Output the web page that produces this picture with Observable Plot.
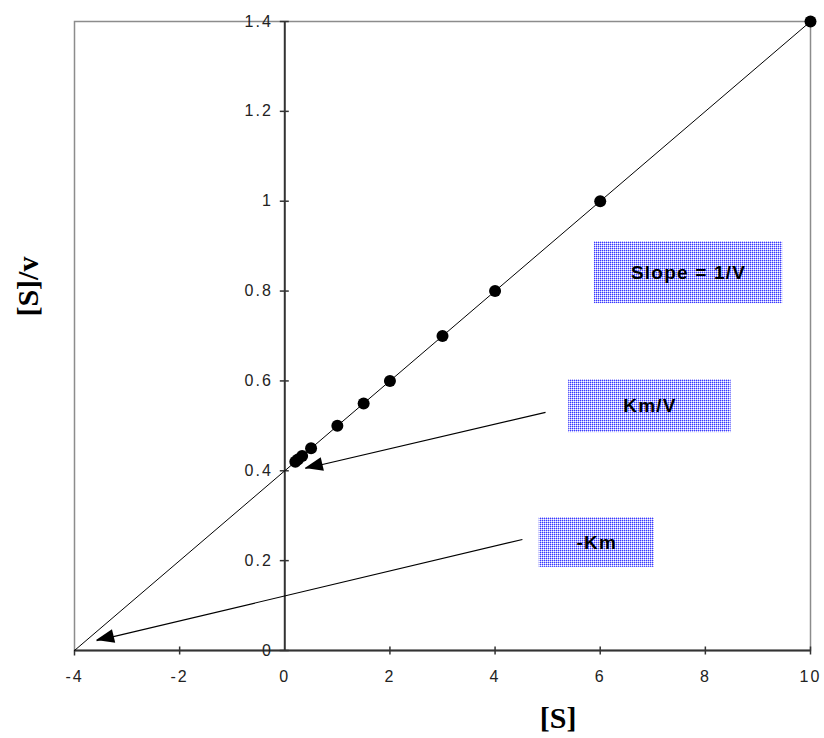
<!DOCTYPE html>
<html>
<head>
<meta charset="utf-8">
<script src="https://cdn.jsdelivr.net/npm/d3@7"></script>
<script src="https://cdn.jsdelivr.net/npm/@observablehq/plot@0.6"></script>
<style>
  body { margin: 0; background: #fff; }
  #chart { position: relative; width: 824px; height: 738px; }
</style>
</head>
<body>
<div id="chart"></div>
<script>
// Data: substrate concentration [S] and [S]/v
const S = [0.2, 0.25, 0.33, 0.5, 1, 1.5, 2, 3, 4, 6, 10];
const SoverV = [0.42, 0.425, 0.433, 0.45, 0.5, 0.55, 0.6, 0.7, 0.8, 1.0, 1.4];

// Fitted line end points (x-intercept -Km = -4 to last point)
const lineX = [-4, 10];
const lineY = [0, 1.4];

// Tick values
const xTicks = [-4, -2, 0, 2, 4, 6, 8, 10];
const yTicks = [0, 0.2, 0.4, 0.6, 0.8, 1, 1.2, 1.4];
const yTickLabels = ["0", "0.2", "0.4", "0.6", "0.8", "1", "1.2", "1.4"];

// Annotation labels (boxes)
const boxLabels = ["Slope = 1/V", "Km/V", "-Km"];
const boxX1 = [5.89, 5.40, 4.84];
const boxX2 = [9.47, 8.49, 7.03];
const boxY1 = [0.772, 0.485, 0.185];
const boxY2 = [0.910, 0.603, 0.296];

// Arrows (from text towards intercepts)
const arrowX1 = [4.96, 4.52];
const arrowY1 = [0.530, 0.247];
const arrowX2 = [0.39, -3.58];
const arrowY2 = [0.405, 0.022];

const points = S.map((s, i) => ({s, r: SoverV[i]}));
const fit = lineX.map((x, i) => ({x, y: lineY[i]}));
const boxes = boxLabels.map((label, i) => ({
  label, x1: boxX1[i], x2: boxX2[i], y1: boxY1[i], y2: boxY2[i]
}));
const arrows = arrowX1.map((x1, i) => ({x1, y1: arrowY1[i], x2: arrowX2[i], y2: arrowY2[i]}));

const vTick = { draw(ctx) { ctx.moveTo(0, -4); ctx.lineTo(0, 4); } };
const vTickDown = { draw(ctx) { ctx.moveTo(0, 0); ctx.lineTo(0, 5); } };
const hTick = { draw(ctx) { ctx.moveTo(-5, 0); ctx.lineTo(4, 0); } };

const sans = "Arial, 'Liberation Sans', sans-serif";
const serif = "'Times New Roman', 'Liberation Serif', serif";

function defsMark() {
  const ns = "http://www.w3.org/2000/svg";
  const g = document.createElementNS(ns, "g");
  g.innerHTML = `<defs><pattern id="dotfill" width="2" height="2" patternUnits="userSpaceOnUse">
    <rect x="0" y="0" width="2" height="2" fill="#ffffff"/>
    <rect x="0" y="0" width="1" height="1" fill="#3a3aff"/>
    <rect x="1" y="0" width="1" height="1" fill="#b4b4ff"/>
    <rect x="0" y="1" width="1" height="1" fill="#b4b4ff"/>
  </pattern></defs>`;
  return g;
}

function arrowHeads(index, scales) {
  const ns = "http://www.w3.org/2000/svg";
  const g = document.createElementNS(ns, "g");
  for (const a of arrows) {
    const sx = scales.x(a.x1), sy = scales.y(a.y1);
    const tx = scales.x(a.x2), ty = scales.y(a.y2);
    const ang = Math.atan2(ty - sy, tx - sx);
    const L = 18, W = 7;
    const bx = tx - L * Math.cos(ang), by = ty - L * Math.sin(ang);
    const px = -Math.sin(ang) * W, py = Math.cos(ang) * W;
    const p = document.createElementNS(ns, "polygon");
    p.setAttribute("points", `${tx},${ty} ${bx + px},${by + py} ${bx - px},${by - py}`);
    p.setAttribute("fill", "#000");
    g.appendChild(p);
  }
  return g;
}

const plot = Plot.plot({
  width: 824,
  height: 738,
  marginLeft: 74,
  marginRight: 14,
  marginTop: 21,
  marginBottom: 88,
  style: { fontFamily: sans, background: "#fff" },
  x: { domain: [-4, 10], axis: null },
  y: { domain: [0, 1.4], axis: null },
  marks: [
    defsMark,
    Plot.frame({ stroke: "#8c8c8c", strokeWidth: 1.5 }),
    // axes through origin
    Plot.ruleX([0], { stroke: "#333", strokeWidth: 2 }),
    Plot.ruleY([0], { stroke: "#333", strokeWidth: 2 }),
    Plot.dot(xTicks.filter(d => d !== -4 && d !== 0), { x: d => d, y: () => 0, symbol: vTick, stroke: "#333", strokeWidth: 1.5, r: 4 }),
    Plot.dot([-4], { x: d => d, y: () => 0, symbol: vTickDown, stroke: "#333", strokeWidth: 1.5, r: 4 }),
    Plot.dot(yTicks, { x: () => 0, y: d => d, symbol: hTick, stroke: "#333", strokeWidth: 1.5, r: 4 }),
    Plot.text(xTicks, { x: d => d, y: () => 0, text: d => String(d), dy: 26, fontSize: 16, fontFamily: sans, fill: "#222" }),
    Plot.text(yTicks, { x: () => 0, y: d => d, text: (d, i) => yTickLabels[i], dx: -12, textAnchor: "end", fontSize: 16, fontFamily: sans, fill: "#222" }),
    // fitted line
    Plot.line(fit, { x: "x", y: "y", stroke: "#000", strokeWidth: 1 }),
    // data points
    Plot.dot(points, { x: "s", y: "r", r: 6, fill: "#000" }),
    // annotation boxes
    Plot.rect(boxes, { x1: "x1", x2: "x2", y1: "y1", y2: "y2", fill: "url(#dotfill)" }),
    Plot.text(boxes, { x: d => (d.x1 + d.x2) / 2, y: d => (d.y1 + d.y2) / 2, text: "label", fontSize: 19, fontWeight: "bold", fontFamily: sans, fill: "#000" }),
    // arrows
    Plot.link(arrows, { x1: "x1", y1: "y1", x2: "x2", y2: "y2", stroke: "#000", strokeWidth: 1.2 }),
    arrowHeads,
    // axis titles
    Plot.text(["[S]"], { x: () => 5.2, y: () => 0, text: d => d, dy: 68, fontSize: 30, fontWeight: "bold", fontFamily: serif, fill: "#000" }),
    Plot.text(["[S]/v"], { x: () => -4, y: () => 0.81, text: d => d, dx: -46, rotate: -90, fontSize: 30, fontWeight: "bold", fontFamily: serif, fill: "#000" })
  ]
});
// letter spacing (the original uses widely spaced bitmap fonts)
d3.select(plot).selectAll("text").each(function() {
  const t = this.textContent;
  if (["Slope = 1/V", "Km/V", "-Km"].includes(t)) this.setAttribute("letter-spacing", "1.2");
  else if (xTicks.map(String).includes(t) || yTickLabels.includes(t)) this.setAttribute("letter-spacing", "2");
});
document.getElementById("chart").appendChild(plot);
</script>
</body>
</html>
